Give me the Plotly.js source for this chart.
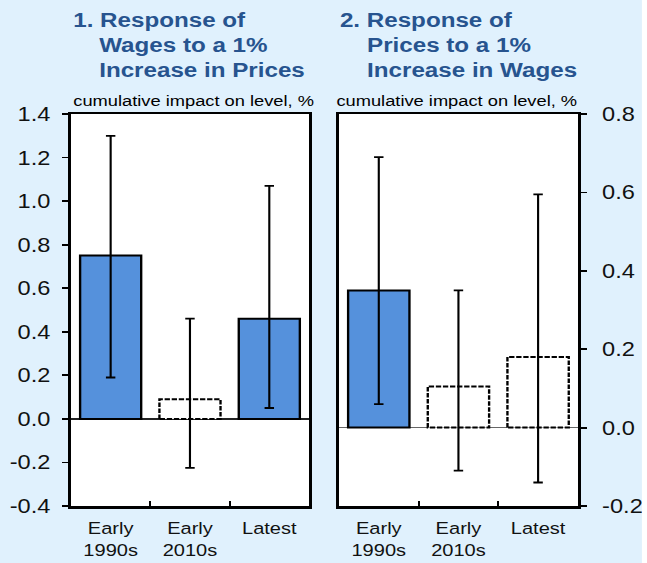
<!DOCTYPE html>
<html>
<head>
<meta charset="utf-8">
<script src="https://cdn.plot.ly/plotly-3.0.1.min.js"></script>
<style>
  html, body { margin: 0; padding: 0; background: #ffffff; overflow: hidden; }
  #wrap { width: 647px; height: 563px; overflow: hidden; }
  #chart { width: 544px; height: 563px; transform: scaleX(1.18); transform-origin: 0 0; }
</style>
</head>
<body>
<div id="wrap"><div id="chart"></div></div>
<script>
// ---- data ----
const categories = ['Early<br>1990s', 'Early<br>2010s', 'Latest'];

// Panel 1: response of wages to a 1% increase in prices
const wagesResponse = [0.75, 0.09, 0.46];
const wagesUpper    = [1.30, 0.46, 1.07];
const wagesLower    = [0.19, -0.225, 0.05];
const wagesSignificant = [true, false, true];

// Panel 2: response of prices to a 1% increase in wages
const pricesResponse = [0.35, 0.105, 0.18];
const pricesUpper    = [0.69, 0.35, 0.595];
const pricesLower    = [0.06, -0.11, -0.14];
const pricesSignificant = [true, false, false];

const leftTickVals  = [-0.4, -0.2, 0.0, 0.2, 0.4, 0.6, 0.8, 1.0, 1.2, 1.4];
const leftTickText  = ['-0.4', '-0.2', '0.0', '0.2', '0.4', '0.6', '0.8', '1.0', '1.2', '1.4'];
const rightTickVals = [-0.2, 0.0, 0.2, 0.4, 0.6, 0.8];
const rightTickText = ['-0.2', '0.0', '0.2', '0.4', '0.6', '0.8'];

const title1 = ['1. Response of', 'Wages to a 1%', 'Increase in Prices'];
const title2 = ['2. Response of', 'Prices to a 1%', 'Increase in Wages'];
const subtitle = 'cumulative impact on level, %';

// ---- styling ----
const BG = '#E0F1FD';
const BLUE = '#5591DC';
const TITLE_BLUE = '#27548F';
const DASH_MARK = 'rgb(0, 0, 1)';
const FONT = 'Liberation Sans, Arial, sans-serif';
const SX = 1.18, W = 544, H = 563;
const px = x => (x / SX) / W;     // reference pixel x -> paper fraction
const py = y => 1 - y / H;          // reference pixel y -> paper fraction

function barTrace(vals, up, lo, sig, xa, ya) {
  return {
    type: 'bar', x: categories, y: vals, xaxis: xa, yaxis: ya,
    marker: {
      color: sig.map(s => s ? BLUE : '#ffffff'),
      line: { color: sig.map(s => s ? '#000000' : DASH_MARK), width: 2 }
    },
    error_y: {
      type: 'data', symmetric: false,
      array: vals.map((v, i) => up[i] - v),
      arrayminus: vals.map((v, i) => v - lo[i]),
      color: '#000000', thickness: 1.8, width: 4
    },
    hoverinfo: 'none', showlegend: false
  };
}

const data = [
  barTrace(wagesResponse, wagesUpper, wagesLower, wagesSignificant, 'x', 'y'),
  barTrace(pricesResponse, pricesUpper, pricesLower, pricesSignificant, 'x2', 'y2')
];

const xCommon = {
  type: 'category', range: [-0.5, 2.5],
  showline: true, linecolor: '#000', linewidth: 2.5, mirror: true,
  ticks: 'inside', tickson: 'boundaries', ticklen: 5, tickwidth: 1.8, tickcolor: '#000',
  tickfont: { family: FONT, size: 17, color: '#111' },
  ticklabelstandoff: 5,
  showgrid: false, zeroline: false, fixedrange: true
};
const yCommon = {
  domain: [py(506), py(114)],
  showline: true, linecolor: '#000', linewidth: 2.5, mirror: true,
  ticks: 'outside', ticklen: 5, tickwidth: 1.8, tickcolor: '#000',
  tickfont: { family: FONT, size: 20, color: '#111' },
  showgrid: false, zeroline: true, zerolinewidth: 1.3,
  fixedrange: true
};

function titleAnns(lines, x1, x2) {
  const ys = [20, 44.5, 69];
  return lines.map((t, i) => ({
    text: t, xref: 'paper', yref: 'paper',
    x: px(i === 0 ? x1 : x2), y: py(ys[i]),
    xanchor: 'left', yanchor: 'middle', showarrow: false,
    borderpad: 0, borderwidth: 0,
    font: { family: FONT, size: 20.5, color: TITLE_BLUE, weight: 'bold' }
  }));
}

const annotations = [
  ...titleAnns(title1, 73, 99),
  ...titleAnns(title2, 340, 367.5),
  { text: subtitle, xref: 'paper', yref: 'paper', x: px(73), y: py(100.5),
    xanchor: 'left', yanchor: 'middle', showarrow: false, borderpad: 0, borderwidth: 0,
    font: { family: FONT, size: 15.5, color: '#000' } },
  { text: subtitle, xref: 'paper', yref: 'paper', x: px(336.5), y: py(100.5),
    xanchor: 'left', yanchor: 'middle', showarrow: false, borderpad: 0, borderwidth: 0,
    font: { family: FONT, size: 15.5, color: '#000' } }
];

const layout = {
  width: W, height: H,
  margin: { l: 0, r: 0, t: 0, b: 0, autoexpand: false },
  paper_bgcolor: BG, plot_bgcolor: '#ffffff',
  bargap: 0.23,
  showlegend: false,
  font: { family: FONT },
  xaxis: Object.assign({}, xCommon, { domain: [71 / 642, 309 / 642], anchor: 'y' }),
  xaxis2: Object.assign({}, xCommon, { domain: [339 / 642, 578 / 642], anchor: 'y2' }),
  yaxis: Object.assign({}, yCommon, {
    anchor: 'x', range: [-0.4, 1.4], tickvals: leftTickVals, ticktext: leftTickText,
    zerolinecolor: '#222', ticklabelstandoff: 6
  }),
  yaxis2: Object.assign({}, yCommon, {
    anchor: 'x2', side: 'right', range: [-0.2, 0.8], tickvals: rightTickVals, ticktext: rightTickText,
    zerolinecolor: '#666', ticklabelstandoff: 9
  }),
  annotations: annotations
};

Plotly.newPlot('chart', data, layout, { displayModeBar: false, staticPlot: true }).then(() => {
  document.querySelectorAll('#chart .barlayer .point path').forEach(p => {
    const s = p.getAttribute('style') || '';
    if (s.indexOf('rgb(0, 0, 1)') >= 0) {
      p.style.stroke = '#000';
      p.style.strokeDasharray = '4.5,1.5';
    }
  });
});
</script>
</body>
</html>
